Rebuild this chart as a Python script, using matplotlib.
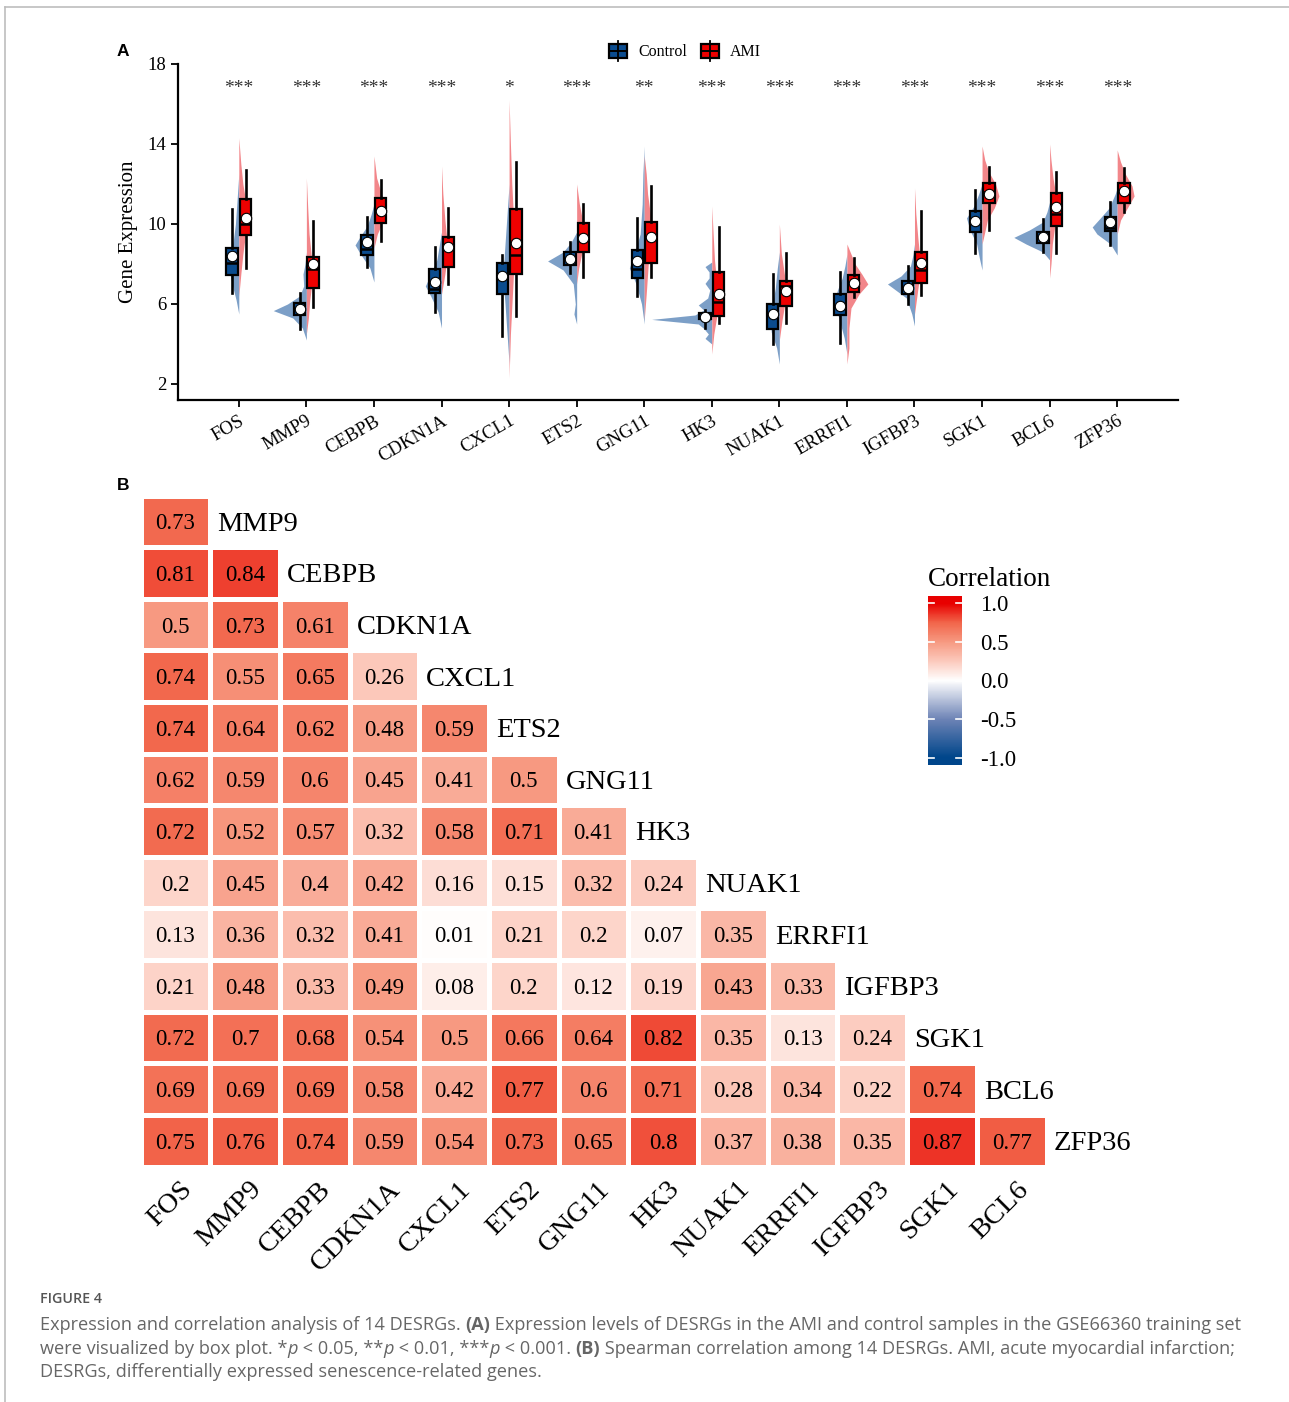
import numpy as np
import matplotlib
matplotlib.use('Agg')
import matplotlib.pyplot as plt
from matplotlib.colors import LinearSegmentedColormap
from matplotlib.patches import Rectangle
from matplotlib.lines import Line2D

W, H = 1289, 1402
SERIF = ['Liberation Serif', 'DejaVu Serif']
plt.rcParams['font.family'] = SERIF

genes = ['FOS', 'MMP9', 'CEBPB', 'CDKN1A', 'CXCL1', 'ETS2', 'GNG11', 'HK3',
         'NUAK1', 'ERRFI1', 'IGFBP3', 'SGK1', 'BCL6', 'ZFP36']
stars = ['***', '***', '***', '***', '*', '***', '**', '***', '***', '***',
         '***', '***', '***', '***']

# box summaries: whisker low, q1, median, q3, whisker high, mean
ctrl_box = [
    [6.53, 7.45, 8.05, 8.82, 10.73, 8.42],
    [4.73, 5.45, 5.80, 6.07, 6.53, 5.77],
    [7.87, 8.45, 8.75, 9.43, 10.37, 9.10],
    [5.62, 6.53, 6.75, 7.77, 8.87, 7.10],
    [4.40, 6.50, 7.50, 8.03, 8.45, 7.40],
    [7.57, 7.95, 8.30, 8.62, 9.08, 8.23],
    [6.40, 7.28, 7.75, 8.70, 10.28, 8.17],
    [4.78, 5.23, 5.35, 5.53, 5.70, 5.37],
    [4.00, 4.75, 5.50, 6.00, 7.50, 5.48],
    [4.03, 5.45, 5.85, 6.50, 7.62, 5.90],
    [6.00, 6.50, 6.85, 7.17, 7.90, 6.82],
    [8.53, 9.62, 10.20, 10.67, 11.70, 10.15],
    [8.62, 9.03, 9.30, 9.62, 10.25, 9.37],
    [8.95, 9.65, 9.78, 10.33, 11.12, 10.10],
]
ami_box = [
    [7.78, 9.43, 9.98, 11.23, 12.70, 10.32],
    [5.87, 6.78, 7.75, 8.33, 10.15, 7.98],
    [9.17, 10.03, 10.70, 11.32, 12.20, 10.67],
    [7.00, 7.87, 8.80, 9.37, 10.82, 8.87],
    [5.40, 7.50, 8.45, 10.73, 13.12, 9.03],
    [7.37, 8.60, 9.30, 10.03, 10.98, 9.30],
    [7.37, 8.03, 9.30, 10.08, 11.90, 9.33],
    [5.03, 5.40, 6.12, 7.58, 9.83, 6.50],
    [5.03, 5.92, 6.90, 7.17, 8.53, 6.65],
    [6.37, 6.62, 7.10, 7.45, 8.28, 7.07],
    [6.45, 7.07, 7.70, 8.62, 10.67, 8.07],
    [9.70, 11.03, 11.60, 12.03, 12.87, 11.50],
    [8.53, 9.90, 10.50, 11.57, 12.62, 10.83],
    [10.62, 11.07, 11.60, 12.03, 12.78, 11.63],
]

# half-violin outlines: (expression, half width)
ctrl_violin = [
    [(5.5, 0), (6.2, 0.04), (7.0, 0.10), (7.8, 0.15), (8.4, 0.13), (9.2, 0.08), (10.0, 0.05), (11.0, 0.03), (12.5, 0)],
    [(4.2, 0), (4.8, 0.06), (5.3, 0.20), (5.67, 0.49), (6.0, 0.28), (6.4, 0.10), (6.9, 0.04), (7.5, 0.05), (8.0, 0.02), (8.6, 0)],
    [(7.1, 0), (7.8, 0.06), (8.5, 0.20), (8.95, 0.28), (9.4, 0.20), (9.9, 0.10), (10.5, 0.04), (11.0, 0)],
    [(4.8, 0), (5.6, 0.05), (6.4, 0.16), (6.9, 0.24), (7.5, 0.16), (8.2, 0.07), (9.0, 0.03), (9.6, 0)],
    [(3.0, 0), (4.5, 0.03), (6.0, 0.06), (7.3, 0.09), (8.5, 0.07), (10.0, 0.04), (12.0, 0)],
    [(5.0, 0), (5.5, 0.04), (6.0, 0.02), (7.0, 0.05), (7.7, 0.20), (8.15, 0.43), (8.6, 0.20), (9.1, 0.08), (9.6, 0)],
    [(5.0, 0), (6.0, 0.04), (7.0, 0.12), (7.8, 0.22), (8.5, 0.15), (9.5, 0.06), (11.0, 0.03), (12.5, 0.02), (13.9, 0)],
    [(4.0, 0), (4.28, 0.10), (4.5, 0.05), (4.78, 0.12), (5.0, 0.20), (5.23, 0.89), (5.45, 0.25), (5.7, 0.12),
     (5.95, 0.20), (6.3, 0.06), (6.7, 0.03), (7.03, 0.10), (7.3, 0.04), (7.6, 0.04), (7.87, 0.10), (8.1, 0)],
    [(3.0, 0), (3.8, 0.04), (4.6, 0.12), (5.3, 0.14), (6.0, 0.10), (6.8, 0.06), (7.8, 0.03), (8.6, 0)],
    [(3.5, 0), (4.3, 0.04), (5.3, 0.12), (6.1, 0.19), (6.7, 0.14), (7.3, 0.07), (7.9, 0.03), (8.5, 0)],
    [(4.9, 0), (5.5, 0.04), (6.3, 0.12), (7.0, 0.40), (7.4, 0.20), (7.9, 0.06), (8.5, 0.02), (9.0, 0)],
    [(7.7, 0), (8.3, 0.04), (9.0, 0.08), (9.7, 0.18), (10.3, 0.23), (10.9, 0.12), (11.5, 0.05), (12.0, 0)],
    [(8.2, 0), (8.6, 0.10), (9.0, 0.35), (9.33, 0.53), (9.7, 0.30), (10.1, 0.10), (10.6, 0.04), (11.1, 0)],
    [(8.45, 0), (9.0, 0.10), (9.5, 0.30), (9.85, 0.37), (10.3, 0.25), (10.8, 0.12), (11.5, 0.03), (11.8, 0)],
]
ami_violin = [
    [(6.4, 0), (7.5, 0.03), (8.5, 0.06), (9.5, 0.10), (10.3, 0.13), (11.2, 0.10), (12.0, 0.06), (13.0, 0.03), (14.3, 0)],
    [(4.5, 0), (5.3, 0.03), (6.2, 0.05), (7.0, 0.08), (7.8, 0.10), (8.5, 0.07), (9.5, 0.04), (10.8, 0.02), (12.3, 0)],
    [(8.8, 0), (9.5, 0.05), (10.2, 0.14), (10.7, 0.19), (11.4, 0.12), (12.3, 0.04), (13.4, 0)],
    [(6.5, 0), (7.5, 0.05), (8.5, 0.09), (9.2, 0.08), (10.2, 0.05), (11.5, 0.02), (12.9, 0)],
    [(2.3, 0), (4.5, 0.02), (6.5, 0.05), (8.5, 0.08), (10.0, 0.07), (12.0, 0.04), (14.0, 0.02), (16.2, 0)],
    [(7.0, 0), (7.8, 0.03), (8.6, 0.08), (9.5, 0.10), (10.3, 0.08), (11.0, 0.04), (12.0, 0)],
    [(5.2, 0), (6.5, 0.03), (8.0, 0.06), (9.5, 0.10), (10.5, 0.09), (11.5, 0.05), (12.5, 0.03), (13.4, 0)],
    [(3.5, 0), (4.5, 0.03), (5.5, 0.08), (6.3, 0.10), (7.2, 0.07), (8.2, 0.04), (9.5, 0.02), (10.9, 0)],
    [(4.2, 0), (5.2, 0.04), (6.2, 0.09), (6.9, 0.10), (7.6, 0.07), (8.5, 0.03), (10.0, 0)],
    [(3.0, 0), (3.8, 0.03), (4.8, 0.03), (5.8, 0.06), (6.5, 0.18), (7.0, 0.31), (7.5, 0.22), (8.0, 0.12), (8.5, 0.06), (9.0, 0)],
    [(5.5, 0), (6.5, 0.04), (7.5, 0.08), (8.3, 0.08), (9.3, 0.05), (10.5, 0.02), (11.8, 0)],
    [(9.0, 0), (9.6, 0.04), (10.2, 0.08), (10.8, 0.18), (11.4, 0.25), (12.0, 0.20), (12.6, 0.10), (13.2, 0.04), (13.9, 0)],
    [(7.3, 0), (8.0, 0.02), (9.0, 0.04), (10.0, 0.08), (10.8, 0.10), (11.5, 0.09), (12.3, 0.05), (13.2, 0.02), (14.0, 0)],
    [(9.5, 0), (10.2, 0.05), (10.8, 0.15), (11.4, 0.25), (11.9, 0.22), (12.5, 0.12), (13.1, 0.05), (13.7, 0)],
]

# Spearman correlation, lower triangle (row gene vs FOS, MMP9, ...)
corr_rows = [
    [0.73],
    [0.81, 0.84],
    [0.5, 0.73, 0.61],
    [0.74, 0.55, 0.65, 0.26],
    [0.74, 0.64, 0.62, 0.48, 0.59],
    [0.62, 0.59, 0.6, 0.45, 0.41, 0.5],
    [0.72, 0.52, 0.57, 0.32, 0.58, 0.71, 0.41],
    [0.2, 0.45, 0.4, 0.42, 0.16, 0.15, 0.32, 0.24],
    [0.13, 0.36, 0.32, 0.41, 0.01, 0.21, 0.2, 0.07, 0.35],
    [0.21, 0.48, 0.33, 0.49, 0.08, 0.2, 0.12, 0.19, 0.43, 0.33],
    [0.72, 0.7, 0.68, 0.54, 0.5, 0.66, 0.64, 0.82, 0.35, 0.13, 0.24],
    [0.69, 0.69, 0.69, 0.58, 0.42, 0.77, 0.6, 0.71, 0.28, 0.34, 0.22, 0.74],
    [0.75, 0.76, 0.74, 0.59, 0.54, 0.73, 0.65, 0.8, 0.37, 0.38, 0.35, 0.87, 0.77],
]
cbar_ticks = [-1.0, -0.5, 0.0, 0.5, 1.0]

BLUE, RED = '#0B4C8F', '#EE0000'
BLUE_V, RED_V = '#7C9FC7', '#F2868A'

fig = plt.figure(figsize=(W / 100, H / 100), dpi=100)


def px_axes(x0, y0, x1, y1):
    return fig.add_axes([x0 / W, 1 - y1 / H, (x1 - x0) / W, (y1 - y0) / H])


def fx(x):
    return x / W


def fy(y):
    return 1 - y / H


# thin frame of the figure page
fig.add_artist(Line2D([fx(5), fx(5)], [0, fy(7)], color='#bdbdbd', lw=1.2))
fig.add_artist(Line2D([fx(5), 1], [fy(7), fy(7)], color='#bdbdbd', lw=1.2))

# ---------------- A: split violins with boxes ----------------
ax = px_axes(178, 64, 1178, 400)
pos = np.arange(1, len(genes) + 1)

for i in range(len(genes)):
    for prof, side, col in ((ctrl_violin[i], -1, BLUE_V), (ami_violin[i], 1, RED_V)):
        v = np.array([p[0] for p in prof])
        w = np.array([p[1] for p in prof])
        ax.fill_betweenx(v, pos[i], pos[i] + side * w, color=col, lw=0, zorder=1)


def stats(b):
    return dict(whislo=b[0], q1=b[1], med=b[2], q3=b[3], whishi=b[4], mean=b[5], fliers=[])


for boxes, off, col in ((ctrl_box, -0.1, BLUE), (ami_box, 0.1, RED)):
    ax.bxp([stats(b) for b in boxes], positions=pos + off, widths=0.17,
           patch_artist=True, showmeans=True, showcaps=False, manage_ticks=False,
           boxprops=dict(facecolor=col, edgecolor='black', linewidth=1.6),
           whiskerprops=dict(color='black', linewidth=1.9),
           medianprops=dict(color='black', linewidth=1.8),
           meanprops=dict(marker='o', markerfacecolor='white', markeredgecolor='black',
                          markersize=7.5, markeredgewidth=0.8),
           zorder=3)

for i, s in enumerate(stars):
    ax.text(pos[i], 16.78, s, ha='center', va='center', fontsize=14, color='#333333')

ax.set_xlim(0.1, 14.9)
ax.set_ylim(1.2, 18)
ax.set_yticks([2, 6, 10, 14, 18])
ax.set_xticks(pos)
ax.set_xticklabels(genes, rotation=30, ha='right', va='top', rotation_mode='anchor')
ax.tick_params(labelsize=13.5, width=1.3, length=5, colors='black')
ax.tick_params(axis='x', pad=4)
for sp in ['top', 'right']:
    ax.spines[sp].set_visible(False)
for sp in ['left', 'bottom']:
    ax.spines[sp].set_linewidth(1.6)
ax.set_ylabel('Gene Expression', fontsize=15, labelpad=7)

# legend glyphs
lg = px_axes(600, 36, 780, 64)
lg.set_xlim(600, 780)
lg.set_ylim(64, 36)
lg.axis('off')
for x0, col, lab in ((609, BLUE, 'Control'), (701, RED, 'AMI')):
    lg.plot([x0 + 9, x0 + 9], [41, 61], color='black', lw=1.3)
    lg.add_patch(Rectangle((x0, 44), 18, 13.5, facecolor=col, edgecolor='black', lw=1.6))
    lg.plot([x0, x0 + 18], [50.7, 50.7], color='black', lw=1.4)
    lg.text(x0 + 29, 51.5, lab, ha='left', va='center', fontsize=11.5)

fig.text(fx(123), fy(51), 'A', family=['Liberation Sans', 'DejaVu Sans'], fontweight='bold',
         fontsize=12.5, ha='center', va='center')
fig.text(fx(123), fy(486), 'B', family=['Liberation Sans', 'DejaVu Sans'], fontweight='bold',
         fontsize=12.5, ha='center', va='center')

# ---------------- B: correlation heatmap ----------------
cmap = LinearSegmentedColormap.from_list('corr', [
    (0.0, '#00468B'), (0.25, '#6E84B6'), (0.5, '#FFFFFF'),
    (0.625, '#FCCABD'), (0.75, '#F79A82'), (0.875, '#F2664B'), (1.0, '#E80000')])

n = len(genes) - 1
M = np.full((n, n), np.nan)
for i, row in enumerate(corr_rows):
    M[i, :len(row)] = row

hx = px_axes(140.5, 495.5, 1046.5, 1166.5)
hx.pcolormesh(np.ma.masked_invalid(M), cmap=cmap, vmin=-1, vmax=1,
              edgecolors='white', linewidth=2.3)
hx.set_xlim(0, n)
hx.set_ylim(n, 0)
hx.axis('off')

cw = (1046.5 - 140.5) / n
for i, row in enumerate(corr_rows):
    for j, v in enumerate(row):
        hx.text(j + 0.5, i + 0.5, f'{v:g}', ha='center', va='center_baseline', fontsize=16.5)
    hx.text(len(row) + 7 / cw, i + 0.5, genes[i + 1], ha='left', va='center_baseline', fontsize=20.5)
for j in range(n):
    hx.text(j + 0.5 + 4 / cw, n + 0.2, genes[j], rotation=45, ha='right', va='top',
            rotation_mode='anchor', fontsize=20.5)

# colour legend
cb = px_axes(928, 596, 962, 765)
lim = 1.09
cb.imshow(np.linspace(-lim, lim, 256)[:, None], extent=[0, 1, -lim, lim], origin='lower',
          aspect='auto', cmap=cmap, vmin=-1, vmax=1)
cb.set_xlim(0, 1)
cb.set_ylim(-lim, lim)
cb.axis('off')
for t in cbar_ticks:
    cb.plot([0, 0.18], [t, t], color='white', lw=1.2)
    cb.plot([0.82, 1], [t, t], color='white', lw=1.2)
    cb.text(1 + 18 / 34, t, f'{t:.1f}', ha='left', va='center_baseline', fontsize=16.5)
fig.text(fx(928), fy(577), 'Correlation', ha='left', va='center_baseline', fontsize=19.5)

# ---------------- caption ----------------
CAP = ['Open Sans', 'DejaVu Sans']
CAP_SIZE = 13.1
CAP_COL = '#666666'
fig.text(fx(40), fy(1299), 'FIGURE 4', family=CAP, fontsize=10.3, fontweight='semibold',
         color='#555555', ha='left', va='center')

renderer = fig.canvas.get_renderer()


def text_width(s, **kw):
    t1 = fig.text(0, 0, 'x' + s + 'x', family=CAP, fontsize=CAP_SIZE, **kw)
    t2 = fig.text(0, 0, 'xx', family=CAP, fontsize=CAP_SIZE, **kw)
    w = t1.get_window_extent(renderer).width - t2.get_window_extent(renderer).width
    t1.remove()
    t2.remove()
    return w


def caption_line(y, parts):
    x = 40
    for s, kw in parts:
        fig.text(fx(x), fy(y), s, family=CAP, fontsize=CAP_SIZE, color=CAP_COL,
                 ha='left', va='baseline', **kw)
        x += text_width(s, **kw)


N = {}
B = {'fontweight': 'bold'}
I = {'fontstyle': 'italic'}
caption_line(1330, [('Expression and correlation analysis of 14 DESRGs. ', N), ('(A)', B),
                    (' Expression levels of DESRGs in the AMI and control samples in the GSE66360 training set', N)])
caption_line(1354, [('were visualized by box plot. *', N), ('p', I), (' < 0.05, **', N), ('p', I),
                    (' < 0.01, ***', N), ('p', I), (' < 0.001. ', N), ('(B)', B),
                    (' Spearman correlation among 14 DESRGs. AMI, acute myocardial infarction;', N)])
caption_line(1377, [('DESRGs, differentially expressed senescence-related genes.', N)])

fig.savefig('out.png', dpi=100)
